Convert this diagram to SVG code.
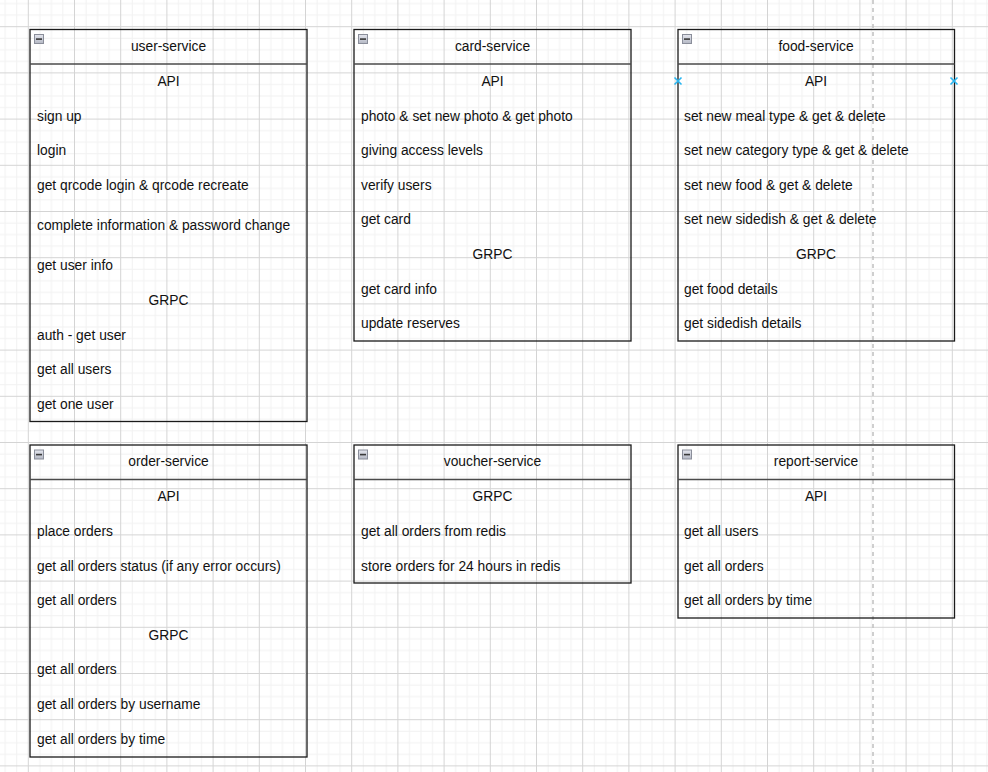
<svg xmlns="http://www.w3.org/2000/svg" width="988" height="772" viewBox="0 0 988 772">
<defs>
<pattern id="grid" patternUnits="userSpaceOnUse" x="27.8" y="26.2" width="46.2" height="46.2">
<rect x="11.55" y="0" width="1" height="46.2" fill="#f1f1f1"/>
<rect x="23.1" y="0" width="1" height="46.2" fill="#f1f1f1"/>
<rect x="34.65" y="0" width="1" height="46.2" fill="#f1f1f1"/>
<rect x="0" y="11.55" width="46.2" height="1" fill="#f1f1f1"/>
<rect x="0" y="23.1" width="46.2" height="1" fill="#f1f1f1"/>
<rect x="0" y="34.65" width="46.2" height="1" fill="#f1f1f1"/>
<rect x="0" y="0" width="1" height="46.2" fill="#d4d4d4"/>
<rect x="0" y="0" width="46.2" height="1" fill="#d4d4d4"/>
</pattern>
<linearGradient id="icon" x1="0" y1="0" x2="0" y2="1">
<stop offset="0" stop-color="#e4e6ee"/>
<stop offset="1" stop-color="#b4b8c4"/>
</linearGradient>
<g id="collapse">
<rect x="0.5" y="0.5" width="9" height="9" fill="url(#icon)" stroke="#8a8e9a" stroke-width="1"/>
<rect x="2" y="4.3" width="6" height="1.6" fill="#3a3a3a"/>
</g>
</defs>
<style>
.box{fill:none;stroke:#1a1a1a;stroke-width:1.3}
.div{stroke:#4a4a4a;stroke-width:1.6}
text{font-family:"Liberation Sans",Arial,sans-serif;font-size:13.8px;fill:#111}
.c{text-anchor:middle}
.x{stroke:#29b6f2;stroke-width:1.6}
</style>
<rect width="988" height="772" fill="#ffffff"/>
<rect width="988" height="772" fill="url(#grid)"/>
<line x1="873" y1="0" x2="873" y2="772" stroke="#c4c4c4" stroke-width="1.6" stroke-dasharray="4 4"/>

<g id="user-service">
<rect class="box" x="30" y="29.5" width="277" height="392"/>
<line class="div" x1="30" y1="64" x2="307" y2="64"/>
<use href="#collapse" x="34" y="34"/>
<text class="c" x="168.5" y="50.8">user-service</text>
<text class="c" x="168.5" y="86">API</text>
<text x="37" y="120.5">sign up</text>
<text x="37" y="155">login</text>
<text x="37" y="189.5">get qrcode login &amp; qrcode recreate</text>
<text x="37" y="230">complete information &amp; password change</text>
<text x="37" y="270">get user info</text>
<text class="c" x="168.5" y="304.5">GRPC</text>
<text x="37" y="339.5">auth - get user</text>
<text x="37" y="374">get all users</text>
<text x="37" y="409">get one user</text>
</g>

<g id="card-service">
<rect class="box" x="354" y="29.5" width="277" height="311.5"/>
<line class="div" x1="354" y1="64" x2="631" y2="64"/>
<use href="#collapse" x="358" y="34"/>
<text class="c" x="492.5" y="50.8">card-service</text>
<text class="c" x="492.5" y="86">API</text>
<text x="361" y="120.5">photo &amp; set new photo &amp; get photo</text>
<text x="361" y="155">giving access levels</text>
<text x="361" y="189.5">verify users</text>
<text x="361" y="224">get card</text>
<text class="c" x="492.5" y="259">GRPC</text>
<text x="361" y="294">get card info</text>
<text x="361" y="328">update reserves</text>
</g>

<g id="food-service">
<rect class="box" x="678" y="29.5" width="276.5" height="311.5"/>
<line class="div" x1="678" y1="64" x2="954.5" y2="64"/>
<use href="#collapse" x="682" y="34"/>
<text class="c" x="816" y="50.8">food-service</text>
<text class="c" x="816" y="86">API</text>
<text x="684" y="120.5">set new meal type &amp; get &amp; delete</text>
<text x="684" y="155">set new category type &amp; get &amp; delete</text>
<text x="684" y="189.5">set new food &amp; get &amp; delete</text>
<text x="684" y="224">set new sidedish &amp; get &amp; delete</text>
<text class="c" x="816" y="259">GRPC</text>
<text x="684" y="294">get food details</text>
<text x="684" y="328">get sidedish details</text>
<line class="x" x1="674.5" y1="77.5" x2="681.5" y2="84.5"/>
<line class="x" x1="681.5" y1="77.5" x2="674.5" y2="84.5"/>
<line class="x" x1="950.5" y1="77.5" x2="957.5" y2="84.5"/>
<line class="x" x1="957.5" y1="77.5" x2="950.5" y2="84.5"/>
</g>

<g id="order-service">
<rect class="box" x="30" y="445" width="277" height="312"/>
<line class="div" x1="30" y1="479.5" x2="307" y2="479.5"/>
<use href="#collapse" x="34" y="449.5"/>
<text class="c" x="168.5" y="465.8">order-service</text>
<text class="c" x="168.5" y="501">API</text>
<text x="37" y="536">place orders</text>
<text x="37" y="571">get all orders status (if any error occurs)</text>
<text x="37" y="605">get all orders</text>
<text class="c" x="168.5" y="640">GRPC</text>
<text x="37" y="674">get all orders</text>
<text x="37" y="709">get all orders by username</text>
<text x="37" y="744">get all orders by time</text>
</g>

<g id="voucher-service">
<rect class="box" x="354" y="445" width="277" height="138"/>
<line class="div" x1="354" y1="479.5" x2="631" y2="479.5"/>
<use href="#collapse" x="358" y="449.5"/>
<text class="c" x="492.5" y="465.8">voucher-service</text>
<text class="c" x="492.5" y="501">GRPC</text>
<text x="361" y="536">get all orders from redis</text>
<text x="361" y="571">store orders for 24 hours in redis</text>
</g>

<g id="report-service">
<rect class="box" x="678" y="445" width="276.5" height="173"/>
<line class="div" x1="678" y1="479.5" x2="954.5" y2="479.5"/>
<use href="#collapse" x="682" y="449.5"/>
<text class="c" x="816" y="465.8">report-service</text>
<text class="c" x="816" y="501">API</text>
<text x="684" y="536">get all users</text>
<text x="684" y="571">get all orders</text>
<text x="684" y="605">get all orders by time</text>
</g>

<g id="connectors"></g>
</svg>
